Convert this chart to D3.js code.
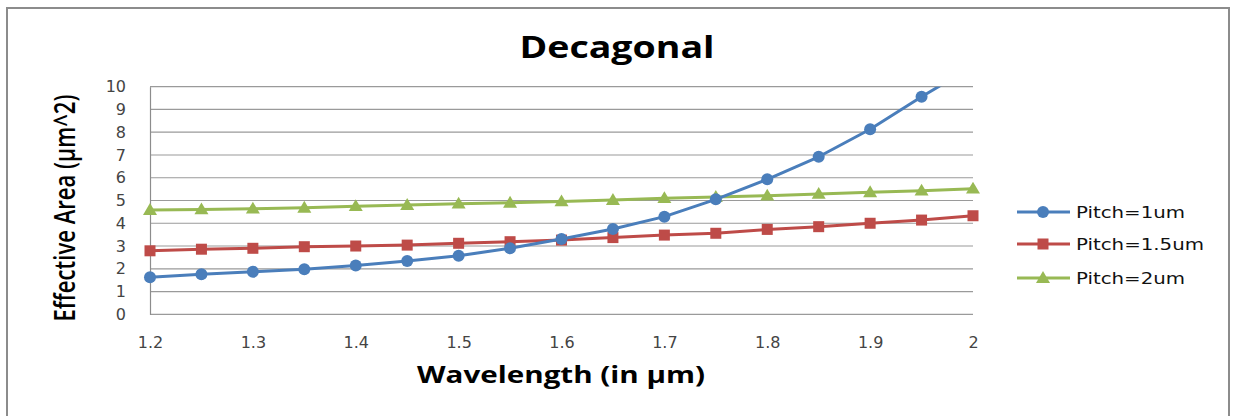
<!DOCTYPE html>
<html>
<head>
<meta charset="utf-8">
<script src="https://cdn.jsdelivr.net/npm/d3@7"></script>
<style>
  html, body { margin: 0; padding: 0; background: #fff; }
  svg { display: block; font-family: "Open Sans", "DejaVu Sans", sans-serif; }
</style>
</head>
<body>
<svg id="chart" width="1237" height="416"></svg>
<script>
// Wavelength samples (µm)
const wavelengths = [1.2, 1.25, 1.3, 1.35, 1.4, 1.45, 1.5, 1.55, 1.6, 1.65, 1.7, 1.75, 1.8, 1.85, 1.9, 1.95, 2.0];

// Effective area (µm^2) for each pitch
const pitch1 = [1.63, 1.76, 1.87, 1.98, 2.14, 2.34, 2.57, 2.90, 3.31, 3.75, 4.29, 5.05, 5.93, 6.92, 8.13, 9.56, 10.9];
const pitch15 = [2.79, 2.86, 2.90, 2.97, 3.00, 3.04, 3.12, 3.19, 3.26, 3.37, 3.48, 3.56, 3.73, 3.85, 4.00, 4.14, 4.33];
const pitch2 = [4.58, 4.61, 4.64, 4.68, 4.75, 4.80, 4.86, 4.90, 4.96, 5.02, 5.10, 5.15, 5.21, 5.29, 5.36, 5.43, 5.52];

const seriesNames = ["Pitch=1um", "Pitch=1.5um", "Pitch=2um"];
const xTicks = [1.2, 1.3, 1.4, 1.5, 1.6, 1.7, 1.8, 1.9, 2];
const yTicks = [0, 1, 2, 3, 4, 5, 6, 7, 8, 9, 10];

const series = [
  { name: seriesNames[0], values: pitch1, color: "#4a7ebb", marker: "circle" },
  { name: seriesNames[1], values: pitch15, color: "#be4b48", marker: "square" },
  { name: seriesNames[2], values: pitch2, color: "#98b954", marker: "triangle" }
];

const svg = d3.select("#chart");
const plotLeft = 150, plotRight = 973, plotTop = 86.7, plotBottom = 314.3;

const x = d3.scaleLinear().domain([1.2, 2]).range([plotLeft, plotRight]);
const y = d3.scaleLinear().domain([0, 10]).range([plotBottom, plotTop]);

// Outer chart frame
svg.append("rect")
  .attr("x", 7).attr("y", 8).attr("width", 1222).attr("height", 420)
  .attr("fill", "#fff").attr("stroke", "#8c8c8c").attr("stroke-width", 2);

// Title
svg.append("text")
  .attr("x", 617).attr("y", 58)
  .attr("text-anchor", "middle")
  .attr("font-size", 31).attr("font-weight", "bold")
  .attr("textLength", 195).attr("lengthAdjust", "spacingAndGlyphs")
  .attr("fill", "#000")
  .text("Decagonal");

// Horizontal gridlines
svg.append("g")
  .selectAll("line")
  .data(yTicks)
  .join("line")
  .attr("x1", plotLeft).attr("x2", plotRight)
  .attr("y1", d => y(d)).attr("y2", d => y(d))
  .attr("stroke", "#9a9a9a").attr("stroke-width", 1.2);

// Y axis
const yAxis = svg.append("g")
  .attr("transform", `translate(${plotLeft},0)`)
  .call(d3.axisLeft(y).tickValues(yTicks).tickSize(0).tickPadding(24).tickFormat(d3.format("d")));
yAxis.select(".domain").attr("stroke", "#8c8c8c").attr("stroke-width", 1.2);
yAxis.attr("font-family", "'DejaVu Sans', sans-serif").attr("font-size", 16);
yAxis.selectAll("text").attr("fill", "#444");

// X axis
const xAxis = svg.append("g")
  .attr("transform", `translate(0,${plotBottom})`)
  .call(d3.axisBottom(x).tickValues(xTicks).tickSize(0).tickPadding(22).tickFormat(d => String(d)));
xAxis.select(".domain").remove();
xAxis.attr("font-family", "'DejaVu Sans', sans-serif").attr("font-size", 16);
xAxis.selectAll("text").attr("fill", "#444");

// Axis titles
svg.append("text")
  .attr("x", 561).attr("y", 383)
  .attr("text-anchor", "middle")
  .attr("font-size", 24).attr("font-weight", "bold")
  .attr("textLength", 288).attr("lengthAdjust", "spacingAndGlyphs")
  .attr("fill", "#000")
  .text("Wavelength (in µm)");

svg.append("text")
  .attr("transform", "translate(75,208) rotate(-90)")
  .attr("text-anchor", "middle")
  .attr("font-size", 29).attr("font-weight", 600)
  .attr("textLength", 227).attr("lengthAdjust", "spacingAndGlyphs")
  .attr("fill", "#000")
  .text("Effective Area (µm^2)");

// Clip the series to the plot area
svg.append("clipPath").attr("id", "plot-clip")
  .append("rect")
  .attr("x", plotLeft - 10).attr("y", plotTop)
  .attr("width", plotRight - plotLeft + 20).attr("height", plotBottom - plotTop + 10);

const line = d3.line()
  .x((d, i) => x(wavelengths[i]))
  .y(d => y(d));

function drawMarker(g, type, cx, cy, color) {
  if (type === "circle") {
    g.append("circle").attr("cx", cx).attr("cy", cy).attr("r", 6).attr("fill", color);
  } else if (type === "square") {
    g.append("rect").attr("x", cx - 5.5).attr("y", cy - 5.5).attr("width", 11).attr("height", 11).attr("fill", color);
  } else {
    const s = 7;
    g.append("path")
      .attr("d", `M${cx},${cy - s}L${cx + s},${cy + s * 0.7}L${cx - s},${cy + s * 0.7}Z`)
      .attr("fill", color);
  }
}

const plot = svg.append("g").attr("clip-path", "url(#plot-clip)");
// draw in reverse so the first series sits on top
series.slice().reverse().forEach(s => {
  const g = plot.append("g");
  g.append("path")
    .datum(s.values)
    .attr("d", line)
    .attr("fill", "none")
    .attr("stroke", s.color)
    .attr("stroke-width", 3)
    .attr("stroke-linejoin", "round");
  s.values.forEach((v, i) => {
    if (v <= 10) drawMarker(g, s.marker, x(wavelengths[i]), y(v), s.color);
  });
});

// Legend
const legendY = [212, 244, 278];
series.forEach((s, i) => {
  const g = svg.append("g");
  g.append("line")
    .attr("x1", 1017).attr("x2", 1070)
    .attr("y1", legendY[i]).attr("y2", legendY[i])
    .attr("stroke", s.color).attr("stroke-width", 3);
  drawMarker(g, s.marker, 1043, legendY[i], s.color);
  g.append("text")
    .attr("x", 1076).attr("y", legendY[i] + 5.5)
    .attr("font-size", 16).attr("fill", "#111")
    .attr("font-family", "'DejaVu Sans', sans-serif")
    .attr("textLength", s.name.length === 11 ? 128 : 109)
    .attr("lengthAdjust", "spacingAndGlyphs")
    .text(s.name);
});
</script>
</body>
</html>
